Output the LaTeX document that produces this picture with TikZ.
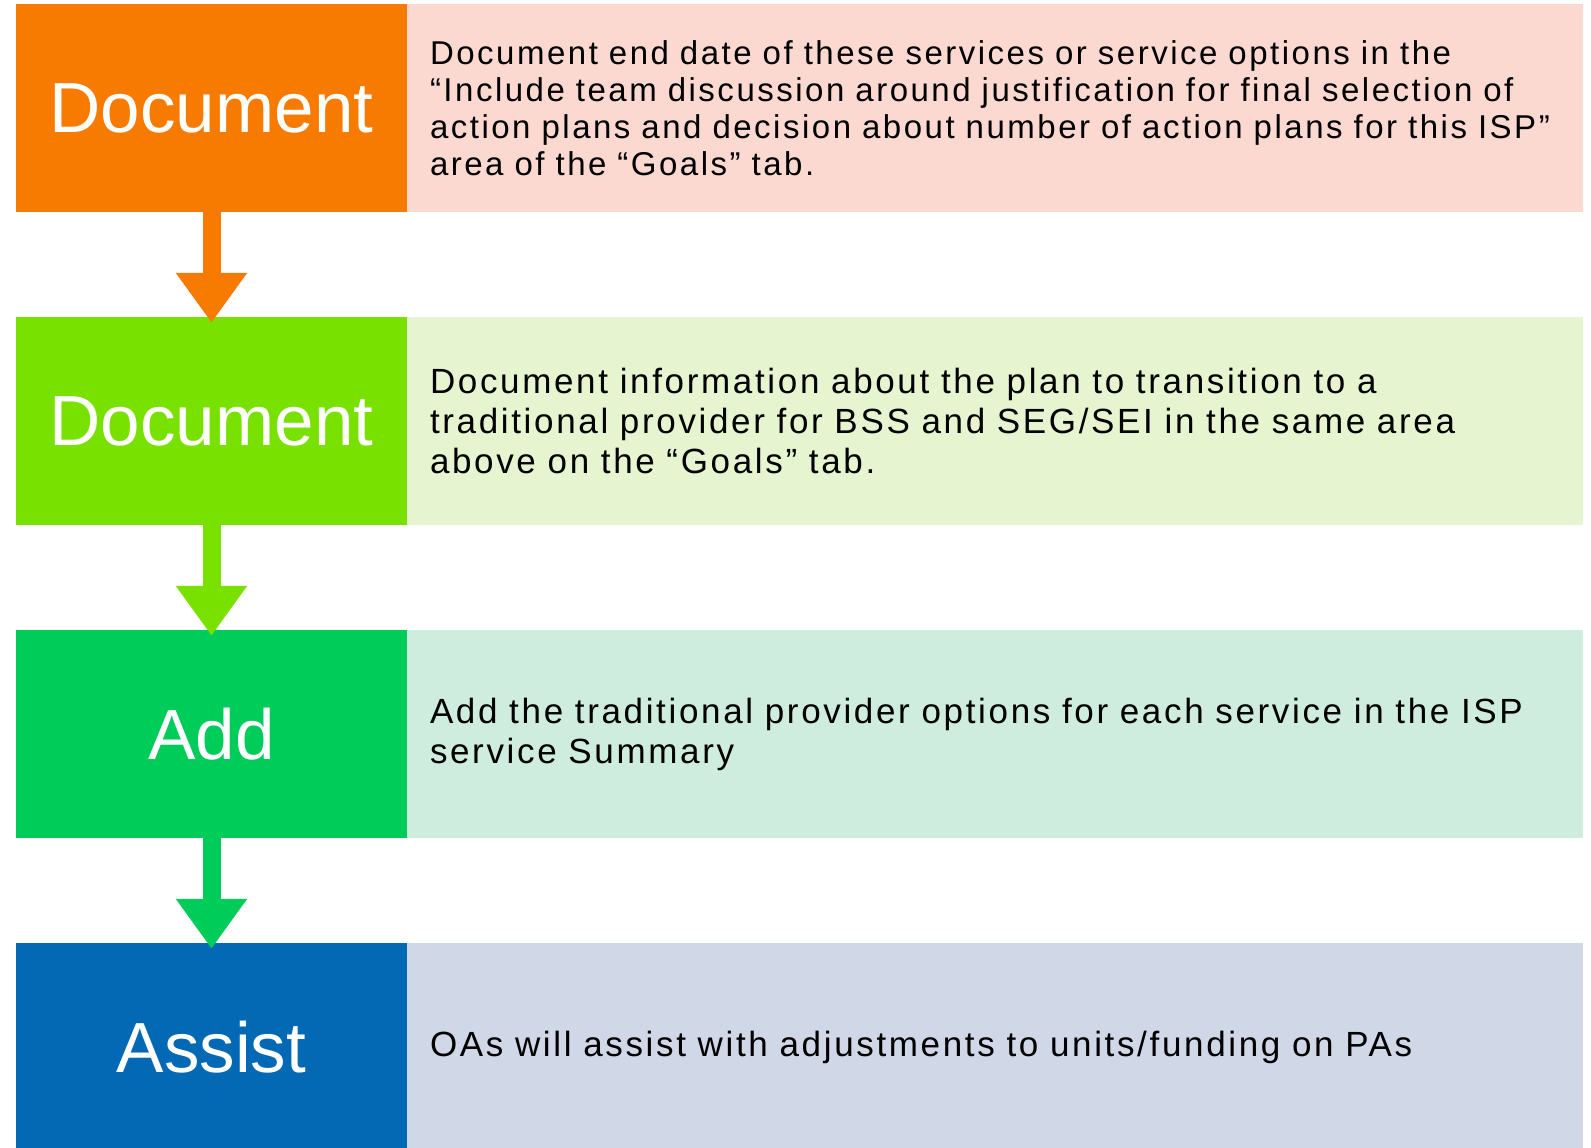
\documentclass[tikz,border=0pt]{standalone}
\usepackage{fontspec}
\setmainfont{Liberation Sans}
\newfontfamily\notefont[LetterSpace=7.6]{Liberation Sans}
\usetikzlibrary{arrows.meta}

\definecolor{orangestep}{HTML}{F77B00}
\definecolor{limestep}{HTML}{79E100}
\definecolor{greenstep}{HTML}{00CC5A}
\definecolor{bluestep}{HTML}{0369B4}
\definecolor{orangenote}{HTML}{FBD9D0}
\definecolor{limenote}{HTML}{E6F5D0}
\definecolor{greennote}{HTML}{CFEDDF}
\definecolor{bluenote}{HTML}{D0D7E7}

\tikzset{
  stepbox/.style={rectangle,draw=none,fill=#1,minimum width=391pt,minimum height=208pt,
    inner sep=0pt,text=white,font=\fontsize{71}{85}\selectfont},
  notebox/.style={rectangle,draw=none,fill=#1,minimum width=1176pt,minimum height=208pt,
    inner xsep=23pt,inner ysep=0pt,text width=1130pt,align=left,text=black,
    font=\notefont\fontsize{35}{40}\selectfont},
  flow/.style={draw=#1,line width=18pt,shorten >=-6pt,
    -{Triangle[width=68pt,length=50pt,color=#1]}}
}

\begin{document}
\begin{tikzpicture}[x=1pt,y=-1pt]
  \useasboundingbox (0,0) rectangle (1591,1148);
  % steps
  \node[stepbox=orangestep] (s1) at (211.5,108) {Document};
  \node[stepbox=limestep] (s2) at (211.5,421) {Document};
  \node[stepbox=greenstep] (s3) at (211.5,734) {Add};
  \node[stepbox=bluestep] (s4) at (211.5,1047) {Assist};

  % notes
  \node[notebox=orangenote,font=\notefont\fontsize{33}{37}\selectfont] (n1) at (995,108)
    {Document end date of these services or service options in the\\
     “Include team discussion around justification for final selection of\\
     action plans and decision about number of action plans for this ISP”\\
     area of the “Goals” tab.};
  \node[notebox=limenote] (n2) at (995,421)
    {Document information about the plan to transition to a\\
     traditional provider for BSS and SEG/SEI in the same area\\
     above on the “Goals” tab.};
  \node[notebox=greennote] (n3) at (995,734)
    {Add the traditional provider options for each service in the ISP\\
     service Summary};
  \node[notebox=bluenote] (n4) at (995,1047)
    {OAs will assist with adjustments to units/funding on PAs};

  \draw[flow=orangestep] (s1.south) -- (s2.north);
  \draw[flow=limestep] (s2.south) -- (s3.north);
  \draw[flow=greenstep] (s3.south) -- (s4.north);
\end{tikzpicture}
\end{document}
